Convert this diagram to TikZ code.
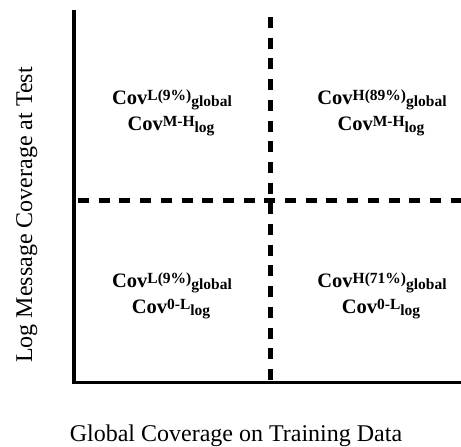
\documentclass[tikz,border=0pt]{standalone}
\usepackage{fontspec}
\setmainfont{Liberation Serif}
\begin{document}
\begin{tikzpicture}[x=1pt,y=-1pt,
  axis/.style={line width=3.3pt,line cap=rect},
  divider/.style={line width=5pt,dash pattern=on 11pt off 9.7pt},
  quad/.style={font=\bfseries\fontsize{20.5}{24}\selectfont,inner sep=0pt,anchor=base},
  axlabel/.style={font=\fontsize{24}{28}\selectfont,inner sep=0pt,anchor=base}]
\useasboundingbox (0,0) rectangle (461,447);
\coordinate (o) at (74,382.7);
\coordinate (ytop) at (74,12);
\coordinate (xend) at (461,382.7);
\coordinate (vtop) at (270.5,17);
\coordinate (vbot) at (270.5,382);
\coordinate (hleft) at (78,200);
\coordinate (hright) at (461,200);
\draw[axis] (ytop) -- (o) -- (xend);
\draw[divider] (vtop) -- (vbot);
\draw[divider] (hleft) -- (hright);
\newcommand{\sps}[2]{\raisebox{3.7pt}{\fontsize{15.5}{16}\selectfont #1}\raisebox{-2pt}{\fontsize{15.5}{16}\selectfont #2}}
\node[quad] (q1a) at (172,104) {Cov\sps{L(9\%)}{global}};
\node[quad] (q1b) at (171,130) {Cov\sps{M-H}{log}};
\node[quad] (q2a) at (382,104) {Cov\sps{H(89\%)}{global}};
\node[quad] (q2b) at (381,130) {Cov\sps{M-H}{log}};
\node[quad] (q3a) at (172,287) {Cov\sps{L(9\%)}{global}};
\node[quad] (q3b) at (171,313) {Cov\sps{0-L}{log}};
\node[quad] (q4a) at (382,287) {Cov\sps{H(71\%)}{global}};
\node[quad] (q4b) at (381,313) {Cov\sps{0-L}{log}};
\node[axlabel,rotate=90] (yl) at (32,215) {Log Message Coverage at Test};
\node[axlabel] (xl) at (236,441) {Global Coverage on Training Data};
\end{tikzpicture}
\end{document}
